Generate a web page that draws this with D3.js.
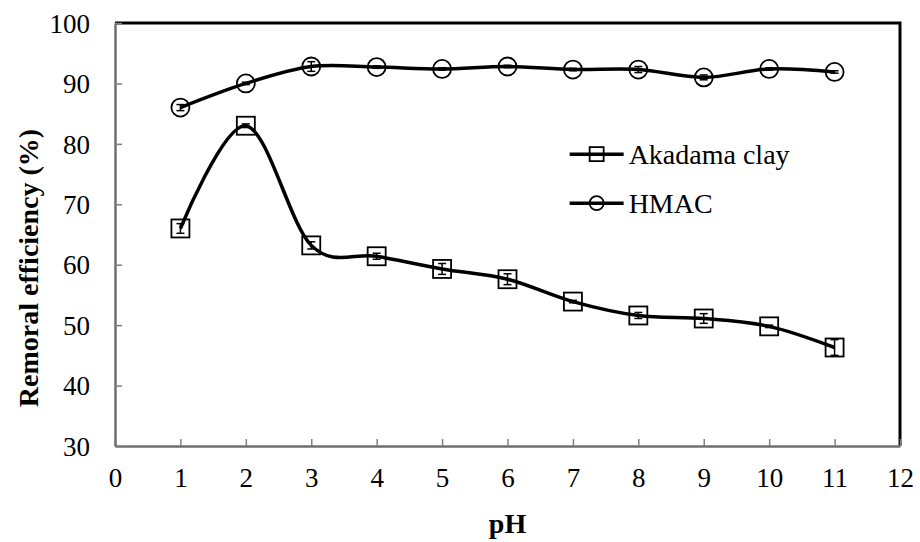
<!DOCTYPE html>
<html>
<head>
<meta charset="utf-8">
<script src="https://cdn.jsdelivr.net/npm/d3@7"></script>
<style>
  body { margin: 0; background: #fff; }
  svg text { font-family: 'Liberation Serif', 'Times New Roman', Times, 'DejaVu Serif', serif; fill: #000; }
</style>
</head>
<body>
<svg id="chart" width="920" height="542"></svg>
<script>
// values
const ph = [1, 2, 3, 4, 5, 6, 7, 8, 9, 10, 11];
const akadama = [66.0, 83.0, 63.2, 61.4, 59.3, 57.6, 53.9, 51.6, 51.1, 49.8, 46.3];
const akadamaErr = [0.8, 0.3, 0.6, 0.5, 0.9, 0.9, 0.2, 0.5, 0.8, 0.2, 1.3];
const hmac = [86.0, 90.0, 92.8, 92.7, 92.4, 92.8, 92.3, 92.3, 91.0, 92.4, 91.9];
const hmacErr = [0.5, 0.2, 0.8, 0.2, 0.2, 0.2, 0.2, 0.5, 0.4, 0.2, 0.2];
const xTicks = [0, 1, 2, 3, 4, 5, 6, 7, 8, 9, 10, 11, 12];
const yTicks = [30, 40, 50, 60, 70, 80, 90, 100];

const serif = "'Liberation Serif', 'Times New Roman', Times, 'DejaVu Serif', serif";
const margin = {top: 23, right: 20, bottom: 96, left: 115};
const svg = d3.select('#chart');
const width = +svg.attr('width') - margin.left - margin.right;
const height = +svg.attr('height') - margin.top - margin.bottom;
const g = svg.append('g').attr('transform', `translate(${margin.left},${margin.top})`);

const x = d3.scaleLinear().domain([0, 12]).range([0, width]);
const y = d3.scaleLinear().domain([30, 100]).range([height, 0]);

// frame: black on top and right
g.append('path')
  .attr('d', `M0,0H${width}V${height}`)
  .attr('fill', 'none')
  .attr('stroke', '#000')
  .attr('stroke-width', 3);

// axes, grey with inward ticks
const xAxis = g.append('g')
  .attr('transform', `translate(0,${height})`)
  .call(d3.axisBottom(x).tickValues(xTicks).tickSize(-7).tickPadding(22).tickSizeOuter(0));
const yAxis = g.append('g')
  .call(d3.axisLeft(y).tickValues(yTicks).tickSize(-7).tickPadding(25).tickSizeOuter(0));

[xAxis, yAxis].forEach(a => {
  a.attr('font-family', serif).attr('font-size', 27);
  a.select('.domain').attr('stroke', '#6f6f6f').attr('stroke-width', 2.5);
  a.selectAll('.tick line').attr('stroke', '#808080').attr('stroke-width', 1.5);
  a.selectAll('.tick text').attr('fill', '#000');
});
xAxis.selectAll('.tick text').attr('dy', '0.71em');
yAxis.selectAll('.tick text').attr('dy', '0.34em');

const line = d3.line()
  .x(d => x(d.ph))
  .y(d => y(d.v))
  .curve(d3.curveCardinal.tension(0));

const series = [
  {name: 'Akadama clay', values: akadama, err: akadamaErr, shape: 'square'},
  {name: 'HMAC', values: hmac, err: hmacErr, shape: 'circle'}
].map(s => ({...s, points: ph.map((p, i) => ({ph: p, v: s.values[i], e: s.err[i]}))}));

function drawMarker(sel, shape, size) {
  if (shape === 'square') {
    sel.append('rect')
      .attr('x', -size / 2).attr('y', -size / 2)
      .attr('width', size).attr('height', size)
      .attr('fill', 'none').attr('stroke', '#000').attr('stroke-width', 1.8);
  } else {
    sel.append('circle')
      .attr('r', size / 2)
      .attr('fill', 'none').attr('stroke', '#000').attr('stroke-width', 1.8);
  }
}

series.forEach(s => {
  g.append('path')
    .datum(s.points)
    .attr('fill', 'none')
    .attr('stroke', '#000')
    .attr('stroke-width', 3.5)
    .attr('d', line);

  const pts = g.selectAll(null)
    .data(s.points)
    .join('g')
    .attr('transform', d => `translate(${x(d.ph)},${y(d.v)})`);
  pts.each(function() { drawMarker(d3.select(this), s.shape, 18); });

  // error bars
  const eb = g.selectAll(null).data(s.points).join('g')
    .attr('stroke', '#000').attr('stroke-width', 1.5);
  eb.append('line')
    .attr('x1', d => x(d.ph)).attr('x2', d => x(d.ph))
    .attr('y1', d => y(d.v - d.e)).attr('y2', d => y(d.v + d.e));
  eb.append('line')
    .attr('x1', d => x(d.ph) - 4).attr('x2', d => x(d.ph) + 4)
    .attr('y1', d => y(d.v - d.e)).attr('y2', d => y(d.v - d.e));
  eb.append('line')
    .attr('x1', d => x(d.ph) - 4).attr('x2', d => x(d.ph) + 4)
    .attr('y1', d => y(d.v + d.e)).attr('y2', d => y(d.v + d.e));
});

// legend
const legend = g.append('g').attr('transform', `translate(${x(6.95)},${y(78.3)})`);
series.forEach((s, i) => {
  const row = legend.append('g').attr('transform', `translate(0,${i * 49})`);
  row.append('line').attr('x1', 0).attr('x2', 54)
    .attr('stroke', '#000').attr('stroke-width', 3.5);
  const m = row.append('g').attr('transform', 'translate(27,0)');
  drawMarker(m, s.shape, 14);
  row.append('text')
    .attr('x', 59).attr('dy', '0.35em')
    .attr('font-family', serif)
    .attr('font-size', 28)
    .text(s.name);
});

// axis titles
svg.append('text')
  .attr('transform', 'translate(38,268) rotate(-90)')
  .attr('text-anchor', 'middle')
  .attr('font-family', serif)
  .attr('font-size', 28)
  .attr('font-weight', 'bold')
  .text('Remoral efficiency (%)');

svg.append('text')
  .attr('x', margin.left + width / 2)
  .attr('y', 533)
  .attr('text-anchor', 'middle')
  .attr('font-family', serif)
  .attr('font-size', 28)
  .attr('font-weight', 'bold')
  .text('pH');
</script>
</body>
</html>
